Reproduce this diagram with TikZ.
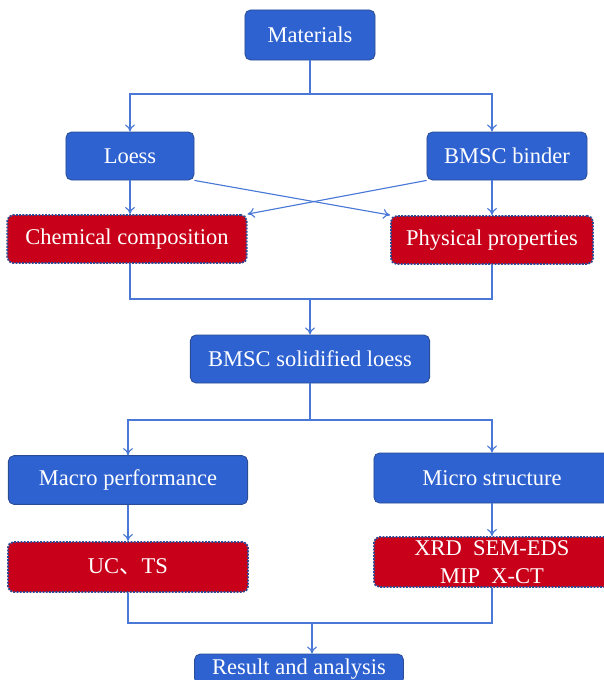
\documentclass[tikz,border=0pt]{standalone}
\usepackage{fontspec}
\setmainfont{Liberation Serif}
\newfontfamily\cjkfont{Noto Sans CJK SC}
\usetikzlibrary{arrows.meta}

\definecolor{nodeblue}{HTML}{2E62D0}
\definecolor{nodeedge}{HTML}{2B4C94}
\definecolor{nodered}{HTML}{C8001A}
\definecolor{linkblue}{HTML}{4A78D6}

\begin{document}
\begin{tikzpicture}[x=0.025cm, y=-0.025cm,
    every node/.style={font=\fontsize{16}{20}\selectfont, text=white, inner sep=0pt, align=center},
    bluebox/.style={draw=nodeedge, fill=nodeblue, rounded corners=4pt, line width=0.6pt},
    redbox/.style={draw=nodeedge, fill=nodered, rounded corners=4pt, densely dotted, line width=1.3pt},
    link/.style={draw=linkblue, line width=0.8pt},
    >={To[length=5pt, width=7pt]}]
    \useasboundingbox (0,0) rectangle (604,680);
    \clip (0,0) rectangle (604,680);

    % Materials
    \node[bluebox, minimum width=3.25cm, minimum height=1.25cm] (mat) at (310,35) {Materials};

    % Raw materials
    \node[bluebox, minimum width=3.2cm, minimum height=1.2cm] (loess) at (130,156) {Loess};
    \node[bluebox, minimum width=4cm, minimum height=1.2cm] (binder) at (507,156) {BMSC binder};

    % Tests of raw materials
    \node[redbox, minimum width=5.98cm, minimum height=1.2cm] (chem) at (127,239) {Chemical composition};
    \node[redbox, minimum width=5.05cm, minimum height=1.2cm] (phys) at (492,240) {Physical properties};

    % Solidified loess
    \node[bluebox, minimum width=5.98cm, minimum height=1.2cm] (sol) at (310,359) {BMSC solidified loess};

    % Performance and structure
    \node[bluebox, minimum width=5.98cm, minimum height=1.22cm] (macro) at (128,480) {Macro performance};
    \node[bluebox, minimum width=5.9cm, minimum height=1.25cm] (micro) at (492,478) {Micro structure};

    % Tests
    \node[redbox, minimum width=6cm, minimum height=1.25cm] (ucts) at (128,567) {UC{\cjkfont 、}TS};
    \node[redbox, minimum width=5.9cm, minimum height=1.25cm] (xrd) at (492,562) {XRD\ \ SEM-EDS\\MIP\ \ X-CT};

    % Result
    \node[bluebox, minimum width=5.22cm, minimum height=0.75cm] (res) at (299,669) {Result and analysis};

    % Junctions
    \coordinate (split1) at (310,94);
    \coordinate (merge1) at (310,299);
    \coordinate (split2) at (310,420);
    \coordinate (merge2) at (312,623);

    % Arrows
    \draw[link] (mat) -- (split1);
    \draw[link, ->] (split1) -| (loess);
    \draw[link, ->] (split1) -| (binder.north -| phys.north);
    \draw[link, ->] (loess) -- (loess |- chem.north);
    \draw[link, ->] (binder.south -| phys.north) -- (phys);
    \draw[link, ->] (loess.south east) -- (phys.north west);
    \draw[link, ->] (binder.south west) -- (chem.north east);
    \draw[link] (loess |- chem.south) |- (merge1) -| (phys);
    \draw[link, ->] (merge1) -- (sol);
    \draw[link] (sol) -- (split2);
    \draw[link, ->] (split2) -| (macro);
    \draw[link, ->] (split2) -| (micro);
    \draw[link, ->] (macro) -- (ucts);
    \draw[link, ->] (micro) -- (xrd);
    \draw[link] (ucts) |- (merge2) -| (xrd);
    \draw[link, ->] (merge2) -- (merge2 |- res.north);
\end{tikzpicture}
\end{document}
